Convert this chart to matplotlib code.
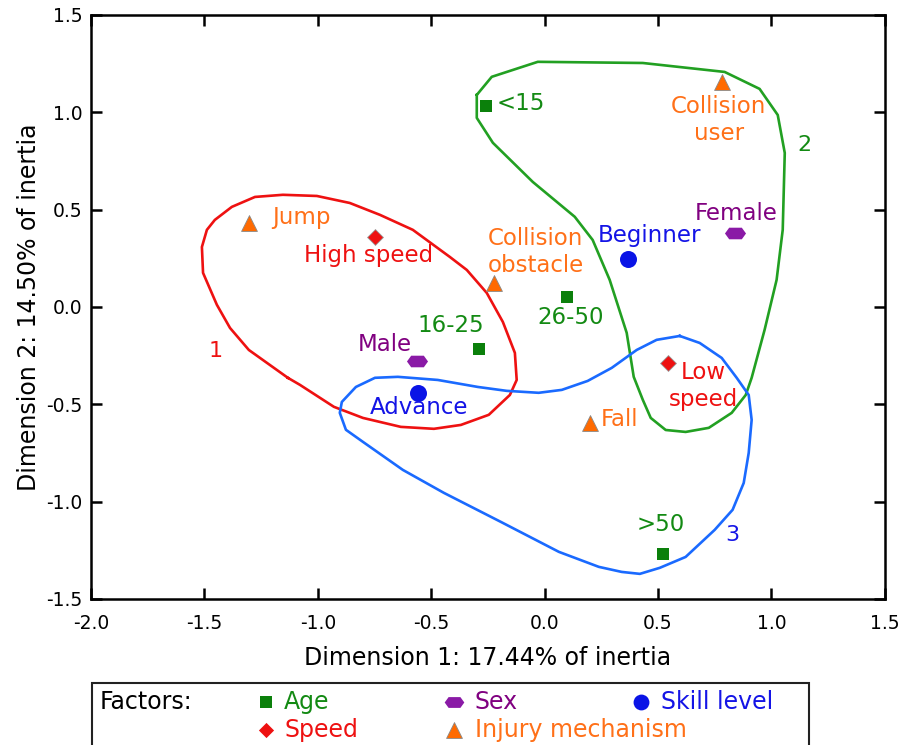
import numpy as np
import matplotlib
matplotlib.use('Agg')
import matplotlib.pyplot as plt
from matplotlib.patches import Rectangle
from matplotlib.path import Path

plt.rcParams['font.family'] = ['DejaVu Sans']
plt.rcParams['axes.unicode_minus'] = False

# category points (Dimension 1, Dimension 2)
age_names = ['<15', '16-25', '26-50', '>50']
age_x = [-0.259, -0.290, 0.098, 0.521]
age_y = [1.033, -0.215, 0.052, -1.268]

sex_names = ['Male', 'Female']
sex_x = [-0.563, 0.838]
sex_y = [-0.277, 0.380]

skill_names = ['Beginner', 'Advance']
skill_x = [0.367, -0.559]
skill_y = [0.247, -0.441]

speed_names = ['High speed', 'Low\nspeed']
speed_x = [-0.748, 0.543]
speed_y = [0.360, -0.287]

injury_names = ['Jump', 'Collision\nuser', 'Collision\nobstacle', 'Fall']
injury_x = [-1.304, 0.781, -0.224, 0.199]
injury_y = [0.432, 1.156, 0.124, -0.596]

# label anchor positions
age_lx = [-0.211, -0.413, 0.115, 0.512]
age_ly = [1.043, -0.097, -0.056, -1.119]
sex_lx = [-0.704, 0.847]
sex_ly = [-0.195, 0.478]
skill_lx = [0.464, -0.554]
skill_ly = [0.365, -0.518]
speed_lx = [-0.775, 0.702]
speed_ly = [0.262, -0.405]
injury_lx = [-1.070, 0.768, -0.039, 0.331]
injury_ly = [0.457, 0.961, 0.283, -0.580]

# cluster outlines
c1_x = [-1.132, -1.304, -1.387, -1.445, -1.506, -1.511, -1.489, -1.454, -1.379, -1.277,
        -1.154, -1.004, -0.859, -0.726, -0.581, -0.418, -0.343, -0.255, -0.184, -0.131,
        -0.123, -0.153, -0.246, -0.369, -0.488, -0.634, -0.801, -0.929, -1.079, -1.132]
c1_y = [-0.364, -0.221, -0.108, 0.011, 0.175, 0.308, 0.396, 0.447, 0.514, 0.565,
        0.576, 0.570, 0.534, 0.473, 0.396, 0.257, 0.190, 0.072, -0.077, -0.236,
        -0.375, -0.452, -0.554, -0.606, -0.626, -0.616, -0.570, -0.513, -0.400, -0.364]

c2_x = [-0.299, -0.233, -0.030, 0.433, 0.794, 0.948, 1.028, 1.059, 1.050, 1.023,
        0.970, 0.913, 0.887, 0.825, 0.724, 0.622, 0.534, 0.468, 0.433, 0.393,
        0.362, 0.287, 0.212, 0.133, -0.052, -0.228, -0.299, -0.299]
c2_y = [1.089, 1.182, 1.259, 1.253, 1.207, 1.120, 0.986, 0.791, 0.396, 0.139,
        -0.118, -0.364, -0.452, -0.544, -0.621, -0.642, -0.632, -0.570, -0.477, -0.359,
        -0.133, 0.139, 0.344, 0.463, 0.642, 0.843, 0.971, 1.089]

c3_x = [0.596, 0.684, 0.781, 0.847, 0.900, 0.913, 0.900, 0.878, 0.829, 0.750,
        0.622, 0.508, 0.420, 0.340, 0.239, 0.063, -0.193, -0.444, -0.625, -0.801,
        -0.876, -0.903, -0.894, -0.832, -0.748, -0.647, -0.471, -0.294, -0.167, -0.026,
        0.076, 0.190, 0.296, 0.406, 0.494, 0.596]
c3_y = [-0.149, -0.185, -0.262, -0.364, -0.452, -0.580, -0.750, -0.904, -1.042, -1.145,
        -1.284, -1.340, -1.371, -1.361, -1.335, -1.258, -1.104, -0.955, -0.837, -0.693,
        -0.631, -0.544, -0.488, -0.411, -0.364, -0.359, -0.375, -0.411, -0.431, -0.441,
        -0.426, -0.380, -0.313, -0.221, -0.169, -0.149]

cluster_names = ['1', '2', '3']
cluster_lx = [-1.449, 1.147, 0.829]
cluster_ly = [-0.226, 0.832, -1.171]

# colours
green_m, green_t, green_c = '#0b800b', '#138a13', '#22a022'
purple_m, purple_t = '#8a1aa6', '#800080'
blue_m, blue_t, blue_c = '#0a14e6', '#1414e6', '#1a6aff'
red_m, red_t, red_c = '#ee1111', '#ee1111', '#ee1111'
orange_m, orange_t = '#ff6a00', '#ff7018'

hexa = Path([(-1, 0), (-0.6, 0.55), (0.6, 0.55), (1, 0), (0.6, -0.55), (-0.6, -0.55), (-1, 0)],
            [Path.MOVETO] + [Path.LINETO] * 5 + [Path.CLOSEPOLY])

fs = 16.5

fig = plt.figure(figsize=(9.01, 7.45), dpi=100)
ax = fig.add_axes([0.101, 0.196, 0.881, 0.784])

ax.plot(c1_x, c1_y, color=red_c, lw=1.9, zorder=1)
ax.plot(c2_x, c2_y, color=green_c, lw=1.9, zorder=1)
ax.plot(c3_x, c3_y, color=blue_c, lw=1.9, zorder=1)
for n, x, y, c in zip(cluster_names, cluster_lx, cluster_ly, [red_t, green_t, blue_t]):
    ax.text(x, y, n, color=c, fontsize=16, ha='center', va='center')

ax.scatter(age_x, age_y, marker='s', s=75, color=green_m, zorder=3, lw=0)
ax.scatter(sex_x, sex_y, marker=hexa, s=230, color=purple_m, zorder=3, lw=0)
ax.scatter(skill_x, skill_y, marker='o', s=150, color=blue_m, zorder=3, lw=0)
ax.scatter(speed_x, speed_y, marker='D', s=65, color=red_m, zorder=3, edgecolor='#999999', lw=0.6)
ax.scatter(injury_x, injury_y, marker='^', s=130, color=orange_m, zorder=3, edgecolor='#888888', lw=0.6)

groups = [
    (age_names, age_lx, age_ly, green_t),
    (sex_names, sex_lx, sex_ly, purple_t),
    (skill_names, skill_lx, skill_ly, blue_t),
    (speed_names, speed_lx, speed_ly, red_t),
    (injury_names, injury_lx, injury_ly, orange_t),
]
for names, lx, ly, c in groups:
    for n, x, y in zip(names, lx, ly):
        ha = 'left' if n == '<15' else 'center'
        ax.text(x, y, n, color=c, fontsize=fs, ha=ha, va='center',
                linespacing=1.25, zorder=4)

ax.set_xlim(-2.0, 1.5)
ax.set_ylim(-1.5, 1.5)
ax.set_xticks(np.arange(-2.0, 1.51, 0.5))
ax.set_yticks(np.arange(-1.5, 1.51, 0.5))
ax.set_xticklabels(['%.1f' % v for v in np.arange(-2.0, 1.51, 0.5)])
ax.set_yticklabels(['%.1f' % v for v in np.arange(-1.5, 1.51, 0.5)])
ax.tick_params(direction='in', length=8, width=1.8, top=True, right=True,
               labelsize=13.5)
ax.tick_params(axis='x', pad=11)
ax.tick_params(axis='y', pad=6)
for sp in ax.spines.values():
    sp.set_linewidth(1.8)
ax.set_xlabel('Dimension 1: 17.44% of inertia', fontsize=17, labelpad=9)
ax.set_ylabel('Dimension 2: 14.50% of inertia', fontsize=17, labelpad=4)

# legend box
box = Rectangle((0.102, -0.02), 0.796, 0.1032, transform=fig.transFigure,
                fill=False, lw=1.5, edgecolor='#222222')
fig.add_artist(box)
lax = fig.add_axes([0.102, 0.0, 0.796, 0.0832])
lax.set_xlim(0, 1)
lax.set_ylim(0, 1)
lax.axis('off')
r1, r2 = 0.70, 0.24
lax.text(0.011, r1, 'Factors:', fontsize=17, ha='left', va='center')
lax.scatter([0.243], [r1], marker='s', s=70, color=green_m, lw=0, clip_on=False)
lax.text(0.268, r1, 'Age', color=green_t, fontsize=17, va='center')
lax.scatter([0.505], [r1], marker=hexa, s=200, color=purple_m, lw=0, clip_on=False)
lax.text(0.534, r1, 'Sex', color=purple_t, fontsize=17, va='center')
lax.scatter([0.766], [r1], marker='o', s=130, color=blue_m, lw=0, clip_on=False)
lax.text(0.794, r1, 'Skill level', color=blue_t, fontsize=17, va='center')
lax.scatter([0.243], [r2], marker='D', s=60, color=red_m, lw=0, clip_on=False)
lax.text(0.268, r2, 'Speed', color=red_t, fontsize=17, va='center')
lax.scatter([0.505], [r2], marker='^', s=130, color=orange_m, edgecolor='#888888', lw=0.6, clip_on=False)
lax.text(0.534, r2, 'Injury mechanism', color=orange_t, fontsize=17, va='center')

plt.savefig('out.png', dpi=100)
